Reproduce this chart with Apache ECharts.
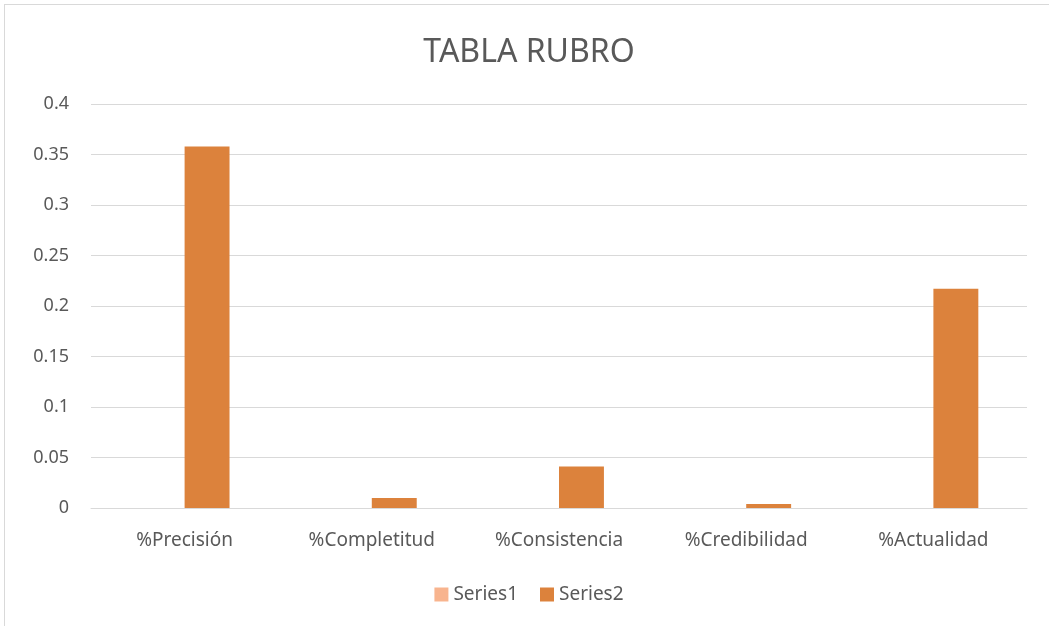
<!DOCTYPE html>
<html>
<head>
<meta charset="utf-8">
<script src="https://cdn.jsdelivr.net/npm/echarts@6/dist/echarts.min.js"></script>
<style>
    html, body { margin: 0; padding: 0; background: #fff; }
    #chart {
        position: absolute;
        left: 4px;
        top: 4px;
        width: 1050px;
        height: 630px;
        border: 1px solid #d9d9d9;
        box-sizing: border-box;
    }
</style>
</head>
<body>
<div id="chart"></div>
<script>
// 数据
const categories = ['%Precisión', '%Completitud', '%Consistencia', '%Credibilidad', '%Actualidad'];
const series1 = [0, 0, 0, 0, 0];
const series2 = [0.358, 0.01, 0.041, 0.004, 0.217];
const yTicks = { min: 0, max: 0.4, interval: 0.05 };

const textColor = '#595959';
const font = '"Noto Sans", sans-serif';

const chart = echarts.init(document.getElementById('chart'));
chart.setOption({
    animation: false,
    textStyle: { fontFamily: font },
    title: {
        text: 'TABLA RUBRO',
        left: 'center',
        top: 27,
        textStyle: { fontSize: 32, fontWeight: 'normal', color: textColor, fontFamily: font }
    },
    legend: {
        bottom: 24,
        left: 'center',
        icon: 'rect',
        itemWidth: 14,
        itemHeight: 14,
        itemGap: 22,
        textStyle: { fontSize: 19, color: textColor, fontFamily: font },
        data: ['Series1', 'Series2']
    },
    grid: { left: 86, right: 26, top: 99, bottom: 125 },
    xAxis: {
        type: 'category',
        data: categories,
        axisTick: { show: false },
        axisLine: { lineStyle: { color: '#d9d9d9', width: 1 } },
        axisLabel: { fontSize: 19, color: textColor, margin: 23, fontFamily: font }
    },
    yAxis: {
        type: 'value',
        min: yTicks.min,
        max: yTicks.max,
        interval: yTicks.interval,
        axisLine: { show: false },
        axisTick: { show: false },
        splitLine: { lineStyle: { color: '#d9d9d9', width: 1 } },
        axisLabel: {
            fontSize: 18,
            color: textColor,
            margin: 22,
            fontFamily: font,
            formatter: v => String(+v.toFixed(2))
        }
    },
    series: [
        {
            name: 'Series1',
            type: 'bar',
            data: series1,
            barWidth: '24%',
            barGap: '0%',
            itemStyle: { color: '#f8b48e' }
        },
        {
            name: 'Series2',
            type: 'bar',
            data: series2,
            barWidth: '24%',
            itemStyle: { color: '#dc823c' }
        }
    ]
});
</script>
</body>
</html>
